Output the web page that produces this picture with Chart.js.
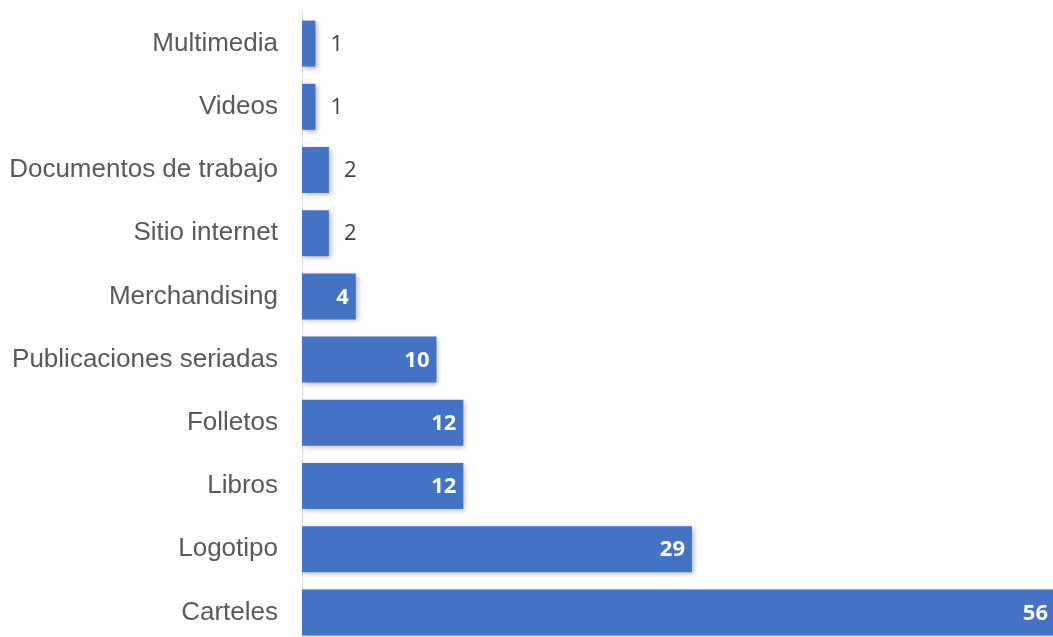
<!DOCTYPE html>
<html>
<head>
<meta charset="utf-8">
<script src="https://cdn.jsdelivr.net/npm/chart.js@4"></script>
<style>
  html, body { margin: 0; padding: 0; background: #fff; overflow: hidden; }
  #wrap { position: relative; width: 1053px; height: 644px; }
</style>
</head>
<body>
<div id="wrap"><canvas id="tiposChart"></canvas></div>
<script>
// categorias y cantidades
var categorias = [
    "Multimedia",
    "Videos",
    "Documentos de trabajo",
    "Sitio internet",
    "Merchandising",
    "Publicaciones seriadas",
    "Folletos",
    "Libros",
    "Logotipo",
    "Carteles"
];
var cantidades = [1, 1, 2, 2, 4, 10, 12, 12, 29, 56];

var barColor = "#4472C4";

// sombra suave bajo las barras
var barShadow = {
    id: "barShadow",
    beforeDatasetsDraw: function (chart) {
        var ctx = chart.ctx;
        ctx.save();
        ctx.shadowColor = "rgba(0,0,0,0.28)";
        ctx.shadowBlur = 5;
        ctx.shadowOffsetX = 2;
        ctx.shadowOffsetY = 2;
    },
    afterDatasetsDraw: function (chart) {
        chart.ctx.restore();
    }
};

// etiquetas con el valor: dentro (blanco) o fuera (gris) de la barra
var valueLabels = {
    id: "valueLabels",
    afterDatasetsDraw: function (chart) {
        var ctx = chart.ctx;
        var meta = chart.getDatasetMeta(0);
        ctx.save();
        ctx.textBaseline = "middle";
        meta.data.forEach(function (bar, i) {
            var v = cantidades[i];
            if (v >= 4) {
                ctx.font = "bold 22px 'Open Sans'";
                ctx.fillStyle = "#ffffff";
                ctx.textAlign = "right";
                ctx.fillText(String(v), bar.x - 7, bar.y + 1);
            } else {
                ctx.font = "22px 'Open Sans'";
                ctx.fillStyle = "#404040";
                ctx.textAlign = "left";
                ctx.fillText(String(v), bar.x + 15, bar.y + 1);
            }
        });
        ctx.restore();
    }
};

var tiposChart = new Chart(document.getElementById("tiposChart"), {
    type: "bar",
    data: {
        labels: categorias,
        datasets: [{
            data: cantidades,
            backgroundColor: barColor,
            borderWidth: 0,
            barPercentage: 0.728,
            categoryPercentage: 1,
            clip: false
        }]
    },
    options: {
        indexAxis: "y",
        responsive: true,
        maintainAspectRatio: false,
        animation: false,
        layout: { padding: { top: 12, right: 0, bottom: 0, left: 0 } },
        plugins: {
            legend: { display: false },
            tooltip: { enabled: false }
        },
        scales: {
            x: {
                display: false,
                min: 0,
                max: 55.85
            },
            y: {
                grid: { display: false, drawTicks: false },
                border: { display: true, color: "#D9D9D9", width: 1 },
                ticks: {
                    color: "#595959",
                    padding: 24,
                    font: { family: "'Liberation Sans', Arial, sans-serif", size: 26 }
                },
                afterFit: function (scale) {
                    scale.width = 302;
                    scale.paddingTop = 0;
                    scale.paddingBottom = 0;
                }
            }
        }
    },
    plugins: [barShadow, valueLabels]
});
</script>
</body>
</html>
